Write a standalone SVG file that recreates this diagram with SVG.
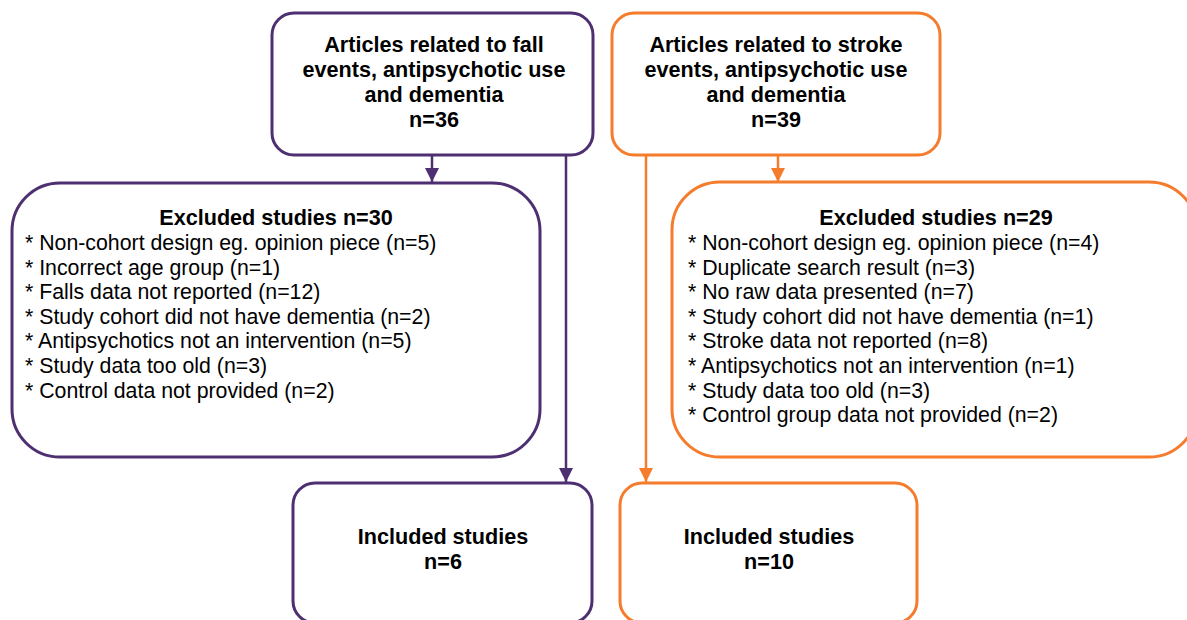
<svg xmlns="http://www.w3.org/2000/svg" width="1187" height="620" viewBox="0 0 1187 620">
<style>
.box{fill:#fff;stroke-width:3}
.p{stroke:#4E2F72}
.o{stroke:#F47C2C}
text{font-family:"Liberation Sans",Arial,sans-serif;font-size:21.3px;fill:#000}
.b{font-weight:bold;text-anchor:middle;font-size:21.6px}
.line{fill:none;stroke-width:2.5}
</style>
<defs>
<marker id="ap" markerUnits="userSpaceOnUse" markerWidth="14" markerHeight="14" refX="14" refY="7" orient="auto"><path d="M0,0 L14,7 L0,14 z" fill="#4E2F72"/></marker>
<marker id="ao" markerUnits="userSpaceOnUse" markerWidth="14" markerHeight="14" refX="14" refY="7" orient="auto"><path d="M0,0 L14,7 L0,14 z" fill="#F47C2C"/></marker>
</defs>
<rect width="1187" height="620" fill="#fff"/>
<g id="connectors">
<line class="line p" x1="432" y1="156" x2="432" y2="182" marker-end="url(#ap)"/>
<line class="line p" x1="566" y1="156" x2="566" y2="482" marker-end="url(#ap)"/>
<line class="line o" x1="778" y1="156" x2="778" y2="182" marker-end="url(#ao)"/>
<line class="line o" x1="646" y1="156" x2="646" y2="482" marker-end="url(#ao)"/>
</g>
<g id="falls-articles">
<rect class="box p" x="272" y="13" width="321" height="142" rx="22"/>
<text class="b" x="434" y="52">Articles related to fall</text>
<text class="b" x="434" y="77">events, antipsychotic use</text>
<text class="b" x="434" y="102">and dementia</text>
<text class="b" x="434" y="127">n=36</text>
</g>
<g id="stroke-articles">
<rect class="box o" x="612" y="13" width="328" height="142" rx="22"/>
<text class="b" x="776" y="52">Articles related to stroke</text>
<text class="b" x="776" y="77">events, antipsychotic use</text>
<text class="b" x="776" y="102">and dementia</text>
<text class="b" x="776" y="127">n=39</text>
</g>
<g id="falls-excluded">
<rect class="box p" x="12" y="183" width="528" height="274" rx="48"/>
<text class="b" x="276" y="225">Excluded studies n=30</text>
<text x="25" y="250">* Non-cohort design eg. opinion piece (n=5)</text>
<text x="25" y="274.6">* Incorrect age group (n=1)</text>
<text x="25" y="299.2">* Falls data not reported (n=12)</text>
<text x="25" y="323.8">* Study cohort did not have dementia (n=2)</text>
<text x="25" y="348.4">* Antipsychotics not an intervention (n=5)</text>
<text x="25" y="373">* Study data too old (n=3)</text>
<text x="25" y="397.6">* Control data not provided (n=2)</text>
</g>
<g id="stroke-excluded">
<rect class="box o" x="672" y="182" width="525" height="275" rx="48"/>
<text class="b" x="936" y="225">Excluded studies n=29</text>
<text x="688" y="250">* Non-cohort design eg. opinion piece (n=4)</text>
<text x="688" y="274.6">* Duplicate search result (n=3)</text>
<text x="688" y="299.2">* No raw data presented (n=7)</text>
<text x="688" y="323.8">* Study cohort did not have dementia (n=1)</text>
<text x="688" y="348.4">* Stroke data not reported (n=8)</text>
<text x="688" y="373">* Antipsychotics not an intervention (n=1)</text>
<text x="688" y="397.6">* Study data too old (n=3)</text>
<text x="688" y="422.2">* Control group data not provided (n=2)</text>
</g>
<g id="falls-included">
<rect class="box p" x="293" y="483" width="299" height="140" rx="22"/>
<text class="b" x="443" y="544">Included studies</text>
<text class="b" x="443" y="569">n=6</text>
</g>
<g id="stroke-included">
<rect class="box o" x="620" y="483" width="297" height="140" rx="22"/>
<text class="b" x="769" y="544">Included studies</text>
<text class="b" x="769" y="569">n=10</text>
</g>
</svg>
